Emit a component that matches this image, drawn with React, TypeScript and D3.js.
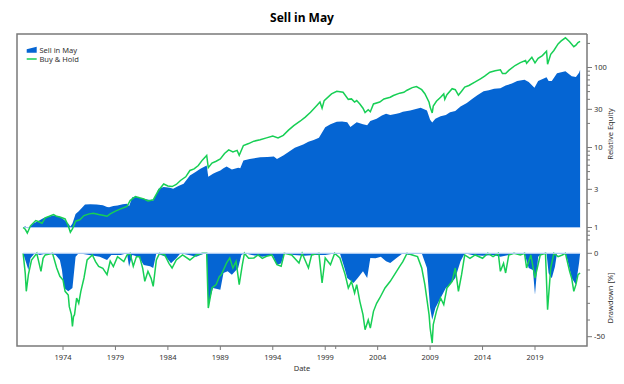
import * as d3 from 'd3';

// [decimal year, relative equity]
const buyHoldEquity: [number, number][] = [
  [1970.2, 1.0], [1970.4, 0.95], [1970.6, 0.85], [1970.9, 1.05], [1971.4, 1.22], [1971.7, 1.18],
  [1972.0, 1.13], [1972.3, 1.32], [1972.7, 1.38], [1973.1, 1.45], [1973.4, 1.38], [1973.7, 1.35],
  [1974.2, 1.28], [1974.5, 1.05], [1974.7, 0.87], [1974.9, 0.96], [1975.2, 1.2], [1975.6, 1.25],
  [1976.0, 1.41], [1976.5, 1.48], [1976.9, 1.51], [1977.4, 1.45], [1977.9, 1.41], [1978.2, 1.38],
  [1978.5, 1.48], [1979.0, 1.6], [1979.5, 1.71], [1980.1, 1.83], [1980.4, 2.17], [1980.9, 2.44],
  [1981.3, 2.35], [1981.7, 2.28], [1982.1, 2.15], [1982.6, 2.22], [1983.1, 2.9], [1983.6, 3.5],
  [1984.0, 3.3], [1984.4, 3.25], [1984.8, 3.45], [1985.2, 3.87], [1985.7, 4.3], [1986.1, 5.16],
  [1986.5, 5.4], [1986.9, 5.95], [1987.3, 7.0], [1987.7, 7.94], [1987.85, 5.6], [1988.2, 6.4],
  [1988.6, 6.74], [1989.0, 7.2], [1989.4, 8.4], [1989.8, 9.35], [1990.2, 8.8], [1990.6, 9.2],
  [1990.8, 8.0], [1991.2, 10.6], [1991.7, 11.2], [1992.2, 12.0], [1992.8, 12.5], [1993.4, 13.2],
  [1994.0, 13.9], [1994.5, 13.2], [1995.0, 14.2], [1995.5, 16.5], [1996.0, 18.8], [1996.6, 21.3],
  [1997.1, 24], [1997.6, 27.6], [1998.2, 33.5], [1998.5, 37], [1998.7, 31], [1998.9, 38.6],
  [1999.6, 46.8], [2000.1, 50.5], [2000.7, 49], [2001.2, 40], [2001.5, 40.5], [2001.8, 37],
  [2002.0, 38.6], [2002.3, 35], [2002.6, 31], [2002.8, 27.3], [2003.1, 29.6], [2003.3, 28],
  [2003.6, 35], [2004.2, 37], [2004.6, 40.5], [2005.2, 42.5], [2005.5, 44.7], [2006.1, 47.8],
  [2006.5, 49], [2006.8, 52], [2007.3, 56], [2007.7, 57.9], [2008.2, 52.8], [2008.5, 47],
  [2008.9, 36.8], [2009.0, 32], [2009.2, 27], [2009.3, 33], [2009.6, 37.8], [2010.0, 42.4],
  [2010.3, 46.8], [2010.4, 40], [2010.6, 45.8], [2011.1, 54.3], [2011.4, 52.8], [2011.7, 45],
  [2012.0, 50.5], [2012.3, 57], [2012.7, 59.6], [2013.3, 66], [2013.8, 72.3], [2014.2, 78],
  [2014.7, 87.3], [2015.2, 91], [2015.7, 93.5], [2015.9, 84], [2016.2, 84], [2016.5, 92],
  [2017.1, 105.9], [2017.6, 115], [2018.1, 122], [2018.2, 113], [2018.7, 134], [2019.0, 114],
  [2019.3, 130], [2019.7, 141], [2020.1, 160], [2020.2, 110], [2020.5, 146], [2020.8, 163],
  [2021.2, 197], [2021.5, 215], [2021.9, 235], [2022.3, 210], [2022.7, 182], [2022.9, 190],
  [2023.1, 205], [2023.3, 212],
];

const sellInMayEquity: [number, number][] = [
  [1970.2, 1.0], [1970.4, 1.04], [1970.6, 0.98], [1970.9, 1.04], [1971.2, 1.13], [1971.6, 1.2],
  [1972.2, 1.32], [1972.6, 1.36], [1973.1, 1.41], [1973.7, 1.36], [1974.1, 1.25], [1974.5, 1.12],
  [1974.7, 1.03], [1974.9, 1.12], [1975.2, 1.48], [1975.5, 1.6], [1976.1, 1.94], [1976.6, 1.95],
  [1977.2, 1.94], [1977.8, 1.9], [1978.2, 1.8], [1978.4, 1.79], [1978.8, 1.86], [1979.2, 1.88],
  [1979.7, 1.95], [1980.1, 1.98], [1980.3, 1.85], [1980.6, 2.39], [1981.0, 2.4], [1981.7, 2.28],
  [1982.3, 2.2], [1982.6, 2.17], [1982.9, 2.6], [1983.1, 3.05], [1983.6, 3.2], [1984.2, 3.13],
  [1984.5, 3.05], [1985.0, 3.3], [1985.5, 3.52], [1986.1, 4.47], [1986.6, 4.9], [1987.1, 5.42],
  [1987.7, 5.95], [1987.85, 4.3], [1988.3, 4.7], [1988.6, 4.9], [1989.0, 5.16], [1989.3, 5.5],
  [1989.6, 5.8], [1990.1, 5.3], [1990.7, 5.57], [1990.9, 5.5], [1991.2, 6.87], [1991.8, 7.2],
  [1992.8, 7.56], [1993.5, 7.6], [1994.1, 7.7], [1994.4, 7.2], [1995.0, 7.94], [1995.5, 8.8],
  [1996.1, 9.9], [1996.9, 10.9], [1997.4, 11.8], [1997.9, 12.4], [1998.4, 13.2], [1999.0, 17.9],
  [1999.5, 19.5], [2000.1, 21], [2000.6, 21.2], [2001.1, 20.7], [2001.4, 18], [2002.0, 20.7],
  [2002.6, 19.5], [2003.0, 19], [2003.3, 21.5], [2003.9, 22.8], [2004.4, 25.1], [2004.8, 26.5],
  [2005.2, 25.5], [2005.8, 26.5], [2006.1, 26.9], [2006.4, 28], [2007.1, 29], [2008.1, 31.4],
  [2008.7, 29], [2009.0, 22.2], [2009.2, 20.5], [2009.5, 22.8], [2010.0, 24.5], [2010.5, 25.5],
  [2010.9, 27.6], [2011.4, 28.5], [2011.9, 32.5], [2012.5, 36], [2013.0, 40.5], [2013.5, 45],
  [2014.1, 50.5], [2014.6, 52], [2015.1, 54.3], [2015.7, 55], [2016.2, 59.6], [2016.8, 63],
  [2017.3, 67.6], [2018.0, 70.3], [2018.4, 66], [2018.95, 56], [2019.3, 68], [2020.1, 75.6],
  [2020.3, 67.6], [2020.6, 68], [2021.1, 84.8], [2021.5, 87], [2021.9, 90], [2022.5, 78],
  [2022.9, 76], [2023.2, 86], [2023.3, 93.5],
];

// [decimal year, drawdown %]
const buyHoldDrawdown: [number, number][] = [
  [1970.2, 0], [1970.4, -12], [1970.5, -22.8], [1970.7, -12.8], [1971.0, -4], [1971.5, 0],
  [1971.9, -10.8], [1972.1, -3], [1972.3, -1], [1973.0, 0], [1973.4, -8.8], [1973.7, -13.8],
  [1974.0, -16], [1974.2, -22.8], [1974.5, -25], [1974.6, -32], [1974.8, -36.8], [1974.9, -43.8],
  [1975.0, -38], [1975.1, -36.8], [1975.3, -26.8], [1975.5, -30], [1975.7, -22.8], [1976.0, -14.8],
  [1976.3, -4], [1976.8, -1], [1977.1, -5], [1977.4, -7.8], [1977.8, -9], [1978.2, -12.8],
  [1978.5, -4.6], [1978.8, -8], [1979.2, -2], [1979.8, -5], [1980.1, -1], [1980.4, 0],
  [1980.7, -7.8], [1981.0, -2], [1981.3, -2], [1981.6, -9], [1981.8, -16.8], [1982.1, -10.8],
  [1982.4, -15], [1982.6, -19.8], [1982.9, -4], [1983.2, 0], [1983.7, -1], [1984.1, -6],
  [1984.4, -8.8], [1984.8, -4], [1985.4, -1], [1986.1, -4], [1986.7, -1], [1987.3, 0],
  [1987.7, 0], [1987.85, -32.8], [1988.2, -20.8], [1988.6, -18.8], [1988.9, -14], [1989.1, -12.8],
  [1989.6, -5.8], [1989.9, -2.8], [1990.2, -8.8], [1990.5, -4.8], [1990.8, -18.8], [1991.1, -6.8],
  [1991.3, 0], [1991.7, -3], [1992.2, -2.8], [1992.6, -1], [1993.0, -3], [1993.4, -1.8],
  [1993.9, -1], [1994.4, -6.8], [1994.8, -7.8], [1995.1, 0], [1995.8, -1], [1996.5, -5.8],
  [1996.8, 0], [1997.4, -8.8], [1997.7, -1], [1998.4, 0], [1998.7, -17.8], [1999.0, -2.8],
  [1999.5, -6.8], [1999.9, 0], [2000.4, -2.8], [2000.9, -12.8], [2001.2, -20.8], [2001.5, -16.8],
  [2001.8, -23.8], [2002.0, -18.8], [2002.3, -28.8], [2002.6, -36.8], [2002.8, -45.8], [2003.1, -40],
  [2003.3, -44.8], [2003.6, -34.8], [2003.9, -30], [2004.2, -26.8], [2004.7, -20.8], [2005.2, -16.8],
  [2005.8, -10.8], [2006.1, -7.8], [2006.4, -5], [2006.8, 0], [2007.3, -1], [2007.8, -2],
  [2008.2, -8.8], [2008.5, -18.8], [2008.9, -36.8], [2009.0, -44.8], [2009.2, -53.8], [2009.3, -42.8],
  [2009.6, -34.8], [2010.0, -26.8], [2010.3, -30.8], [2010.6, -20.8], [2011.1, -16.8], [2011.4, -8.8],
  [2011.7, -22.8], [2012.0, -12.8], [2012.3, -1], [2012.8, -3], [2013.3, -1], [2014.0, -3],
  [2014.5, 0], [2015.0, -2], [2015.5, 0], [2015.7, -10.8], [2016.0, -6], [2016.2, -11.8],
  [2016.5, -1], [2017.0, 0], [2017.6, -1], [2018.0, 0], [2018.2, -8.8], [2018.6, -1],
  [2019.0, -14.8], [2019.5, -1], [2020.0, 0], [2020.2, -33.8], [2020.5, -8.8], [2020.8, 0],
  [2021.2, -2], [2021.6, -1], [2021.9, 0], [2022.3, -10.8], [2022.5, -15], [2022.7, -22.8],
  [2022.9, -18.8], [2023.1, -12.8], [2023.3, -11.8],
];

const sellInMayDrawdown: [number, number][] = [
  [1970.2, 0], [1970.5, -6], [1970.7, -10], [1970.9, -3], [1971.3, 0], [1971.8, -1],
  [1972.5, 0], [1973.3, -1], [1973.7, -4], [1973.9, -10], [1974.1, -20.8], [1974.5, -22.8],
  [1974.9, -20.8], [1975.2, -2], [1975.5, 0], [1976.5, -1], [1977.5, -2], [1978.2, -4],
  [1978.6, -1], [1979.5, -1], [1980.1, 0], [1980.3, -8], [1980.6, -1], [1981.2, -2],
  [1981.7, -7], [1982.3, -7.8], [1982.6, -8.8], [1982.9, 0], [1983.8, -2], [1984.3, -6],
  [1984.8, -3], [1985.2, 0], [1986.0, -1], [1986.7, -2], [1987.3, -0.5], [1987.7, 0],
  [1987.85, -30.8], [1988.3, -20.8], [1989.0, -21.8], [1989.3, -11.8], [1989.7, -10.8], [1990.1, -12.8],
  [1990.7, -8.8], [1991.0, -1], [1991.3, 0], [1992.0, -1], [1993.0, -2], [1994.0, -1],
  [1994.4, -7], [1994.8, -6], [1995.1, 0], [1996.0, -1], [1997.0, -1.5], [1998.0, -1],
  [1999.0, -1], [2000.0, 0], [2000.4, 0], [2000.8, -8], [2001.1, -14.8], [2001.7, -17.8],
  [2002.1, -14.8], [2002.6, -10.8], [2003.0, -14.8], [2003.3, -2.8], [2003.8, -3], [2004.3, -2],
  [2004.8, -4.8], [2005.2, -5.8], [2005.8, -2.8], [2006.4, 0], [2007.0, -1], [2007.8, 0],
  [2008.2, 0], [2008.7, -8.8], [2009.0, -32.8], [2009.2, -39.8], [2009.5, -32.8], [2010.0, -26.8],
  [2010.5, -20.8], [2010.9, -18.8], [2011.4, -14.8], [2011.9, -4.8], [2012.3, 0], [2013.0, -1],
  [2014.0, -1.5], [2015.0, -1], [2015.7, -2], [2016.5, -1], [2017.2, 0], [2018.0, 0],
  [2018.4, -8.8], [2018.8, -10], [2019.0, -24.8], [2019.3, -2], [2019.7, 0], [2020.1, 0],
  [2020.3, -12], [2020.6, -15], [2020.9, -8], [2021.1, 0], [2021.9, 0], [2022.1, -4],
  [2022.5, -14.8], [2022.9, -18.8], [2023.2, -5.8], [2023.3, 0],
];

const yearTicks = [1974, 1979, 1984, 1989, 1994, 1999, 2004, 2009, 2014, 2019];
const equityTicks = [1, 3, 10, 30, 100];
const drawdownTicks = [0, -50];

const BLUE = '#0565d3';
const GREEN = '#17cf55';
const FRAME = '#7a7a7a';
const FONT = "'Segoe UI', 'Noto Sans', sans-serif";

export default function App() {
  const left = 17, right = 587, top = 34, bottom = 346;

  const x = d3.scaleLinear().domain([1974, 2019]).range([63, 535]);
  const yEq = d3.scaleLog().domain([1, 100]).range([227.5, 67.5]);
  const yDd = d3.scaleLinear().domain([0, -50]).range([253.3, 336.7]);

  const eqArea = d3.area<[number, number]>()
    .x(d => x(d[0])).y0(yEq(1)).y1(d => yEq(d[1]));
  const eqLine = d3.line<[number, number]>()
    .x(d => x(d[0])).y(d => yEq(d[1]));
  const ddArea = d3.area<[number, number]>()
    .x(d => x(d[0])).y0(yDd(0)).y1(d => yDd(d[1]));
  const ddLine = d3.line<[number, number]>()
    .x(d => x(d[0])).y(d => yDd(d[1]));

  // minor log ticks
  const minorEq: number[] = [];
  [0.1, 1, 10, 100].forEach(dec => {
    for (let k = 2; k <= 9; k++) {
      const v = dec * k;
      if (v === 3 || v === 30) continue;
      const py = yEq(v);
      if (py >= top && py <= 242) minorEq.push(v);
    }
  });
  const minorDd = d3.range(-10, -50, -10);

  const firstX = x(sellInMayEquity[0][0]);
  const lastX = x(sellInMayEquity[sellInMayEquity.length - 1][0]);

  return (
    <svg width={624} height={384} style={{ position: 'absolute', left: 0, top: 0, background: '#fff' }}
      fontFamily={FONT}>
      <defs>
        <clipPath id="clipTop"><rect x={left} y={top} width={right - left} height={242 - top} /></clipPath>
        <clipPath id="clipBot"><rect x={left} y={249} width={right - left} height={bottom - 249} /></clipPath>
      </defs>

      <text x={(left + right) / 2} y={22} textAnchor="middle" fontSize={12} fontWeight="bold" fill="#000">Sell in May</text>

      {/* equity panel */}
      <g clipPath="url(#clipTop)">
        <path d={eqArea(sellInMayEquity) ?? ''} fill={BLUE} />
        <line x1={firstX} x2={lastX} y1={yEq(1)} y2={yEq(1)} stroke="#a9c9f2" strokeWidth={1} />
        <path d={eqLine(buyHoldEquity) ?? ''} fill="none" stroke={GREEN} strokeWidth={1.5} />
      </g>

      {/* drawdown panel */}
      <g clipPath="url(#clipBot)">
        <path d={ddArea(sellInMayDrawdown) ?? ''} fill={BLUE} />
        <path d={ddLine(buyHoldDrawdown) ?? ''} fill="none" stroke={GREEN} strokeWidth={1.5} />
        <line x1={firstX} x2={lastX} y1={yDd(0)} y2={yDd(0)} stroke="#a9c9f2" strokeWidth={1.2} />
      </g>

      {/* frame */}
      <path d={`M${right},${top}H${left}V${bottom}H${right}V${top}`} fill="none" stroke={FRAME} strokeWidth={1.5} />

      {/* right axis: equity */}
      {equityTicks.map(t => (
        <g key={'e' + t}>
          <line x1={right} x2={right + 5} y1={yEq(t)} y2={yEq(t)} stroke={FRAME} />
          <text x={right + 7} y={yEq(t)} dy="0.35em" fontSize={7.5} fill="#333">{t}</text>
        </g>
      ))}
      {minorEq.map(t => (
        <line key={'m' + t} x1={right} x2={right + 3} y1={yEq(t)} y2={yEq(t)} stroke={FRAME} />
      ))}

      {/* right axis: drawdown */}
      {drawdownTicks.map(t => (
        <g key={'d' + t}>
          <line x1={right} x2={right + 5} y1={yDd(t)} y2={yDd(t)} stroke={FRAME} />
          <text x={right + 7} y={yDd(t)} dy="0.35em" fontSize={7.5} fill="#333">{t}</text>
        </g>
      ))}
      {minorDd.map(t => (
        <line key={'md' + t} x1={right} x2={right + 3} y1={yDd(t)} y2={yDd(t)} stroke={FRAME} />
      ))}

      {/* x axis */}
      {yearTicks.map(t => (
        <g key={'x' + t}>
          <line x1={x(t)} x2={x(t)} y1={bottom} y2={bottom + 4} stroke={FRAME} />
          <text x={x(t)} y={bottom + 14} textAnchor="middle" fontSize={7.5} fill="#333">{t}</text>
        </g>
      ))}
      <line x1={x(2000)} x2={x(2000)} y1={bottom} y2={bottom + 3} stroke={FRAME} />

      <text x={(left + right) / 2} y={371} textAnchor="middle" fontSize={7.5} fill="#333">Date</text>
      <text transform={`translate(613,134) rotate(-90)`} textAnchor="middle" fontSize={7.5} fill="#333">Relative Equity</text>
      <text transform={`translate(613,298) rotate(-90)`} textAnchor="middle" fontSize={7.5} fill="#333">Drawdown [%]</text>

      {/* legend */}
      <polygon points="26.7,52.7 26.7,49.3 36.7,46.7 36.7,52.7" fill={BLUE} />
      <text x={39.5} y={50} dy="0.35em" fontSize={7.5} fill="#333">Sell in May</text>
      <line x1={26.7} x2={36.7} y1={59} y2={59} stroke={GREEN} strokeWidth={1.5} />
      <text x={39.5} y={59.3} dy="0.35em" fontSize={7.5} fill="#333">Buy &amp; Hold</text>
    </svg>
  );
}
